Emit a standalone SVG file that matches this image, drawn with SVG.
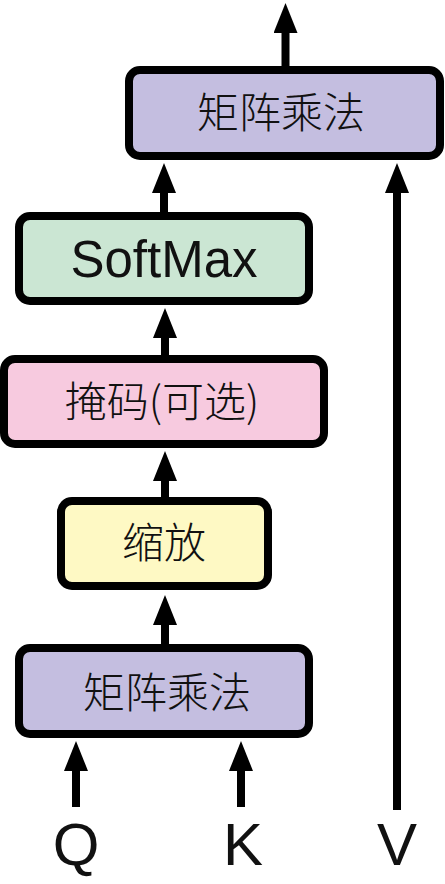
<svg xmlns="http://www.w3.org/2000/svg" width="445" height="884" viewBox="0 0 445 884">
<style>
.box{stroke:#000;stroke-width:8}
.cjk{font-family:"Noto Sans CJK SC","Noto Sans",sans-serif;font-size:42px;font-weight:300;fill:#111;text-anchor:middle}
.lat{font-family:"Liberation Sans",Arial,sans-serif;fill:#111;text-anchor:middle}
.conn{stroke:#000;stroke-width:8;fill:none}
</style>
<defs>
<marker id="ah" markerUnits="userSpaceOnUse" viewBox="0 0 30 24" refX="2" refY="12" markerWidth="30" markerHeight="24" orient="auto">
<path d="M0,0 L30,12 L0,24 z" fill="#000"/>
</marker>
</defs>
<rect width="445" height="884" fill="#fff"/>
<g id="connectors">
<line class="conn" x1="285.5" y1="70" x2="285.5" y2="31" marker-end="url(#ah)"/>
<line class="conn" x1="164" y1="216" x2="164" y2="191" marker-end="url(#ah)"/>
<line class="conn" x1="397" y1="810" x2="397" y2="191" marker-end="url(#ah)"/>
<line class="conn" x1="165" y1="359" x2="165" y2="336" marker-end="url(#ah)"/>
<line class="conn" x1="165" y1="501" x2="165" y2="479" marker-end="url(#ah)"/>
<line class="conn" x1="165" y1="648" x2="165" y2="623" marker-end="url(#ah)"/>
<line class="conn" x1="76" y1="807" x2="76" y2="769" marker-end="url(#ah)"/>
<line class="conn" x1="241" y1="807" x2="241" y2="769" marker-end="url(#ah)"/>
</g>
<g id="matmul-top">
<rect class="box" x="129" y="70" width="311" height="86" rx="11" fill="#C4BEE0"/>
<text class="cjk" x="281" y="128">矩阵乘法</text>
</g>
<g id="softmax">
<rect class="box" x="19" y="216" width="290" height="85" rx="11" fill="#CBE6D3"/>
<text class="lat" x="164" y="277" font-size="51">SoftMax</text>
</g>
<g id="mask">
<rect class="box" x="4" y="359" width="320" height="85" rx="11" fill="#F7CADF"/>
<text class="cjk" x="162" y="417">掩码(可选)</text>
</g>
<g id="scale">
<rect class="box" x="61" y="501" width="207" height="85" rx="11" fill="#FEF9C4"/>
<text class="cjk" x="164" y="558">缩放</text>
</g>
<g id="matmul-bottom">
<rect class="box" x="19" y="648" width="290" height="86" rx="11" fill="#C4BEE0"/>
<text class="cjk" x="167" y="708">矩阵乘法</text>
</g>
<g id="inputs">
<text class="lat" x="76" y="865" font-size="60">Q</text>
<text class="lat" x="243" y="865" font-size="60">K</text>
<text class="lat" x="397" y="865" font-size="60">V</text>
</g>
</svg>
